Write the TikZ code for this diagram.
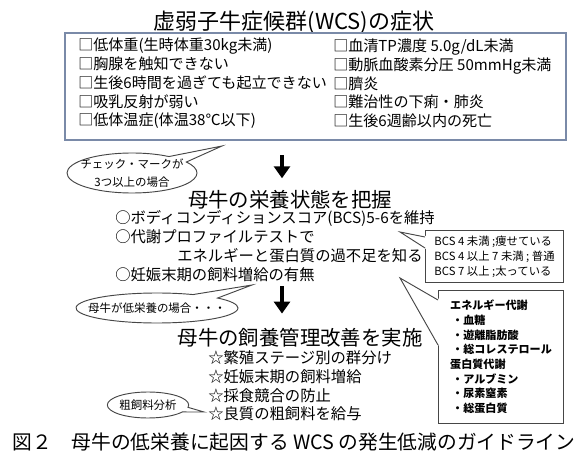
\documentclass[tikz,border=0pt]{standalone}
\usepackage{fontspec}
\setmainfont{Noto Sans CJK JP}
\usetikzlibrary{arrows.meta,positioning,fit,calc,shapes.callouts}
\definecolor{frameblue}{RGB}{122,138,168}
\definecolor{linegray}{RGB}{70,70,70}
\tikzset{
  symframe/.style={draw=frameblue, line width=0.9pt, inner sep=0pt},
  head/.style={font=\fontsize{15.3}{18}\selectfont, inner sep=0pt},
  item/.style={font=\fontsize{11.3}{14.06}\selectfont, align=left, inner sep=0pt, anchor=west},
  bubble/.style={ellipse callout, draw=linegray, line width=0.7pt, fill=white,
                 callout pointer arc=22, inner xsep=-12pt, inner ysep=0pt, align=center,
                 font=\fontsize{8.6}{13}\selectfont},
  notebox/.style={draw=linegray, line width=0.8pt, fill=white, align=left,
                  anchor=north west, inner sep=0pt},
  tail/.style={draw=linegray, line width=0.7pt},
  bigarrow/.style={-{Triangle[width=12pt,length=9pt]}, line width=3pt},
}
\begin{document}
\begin{tikzpicture}[x=0.75pt,y=-0.75pt]
  \useasboundingbox (0,0) rectangle (588,459);

  \node[head, font=\fontsize{16.5}{18}\selectfont] (title) at (294,22) {虚弱子牛症候群(WCS)の症状};
  \node[symframe, fit={(65,33) (566,140)}] (symbox) {};
  \node[item] (symL) at (78,83.5) {□低体重(生時体重30kg未満)\\□胸腺を触知できない\\□生後6時間を過ぎても起立できない\\□吸乳反射が弱い\\□低体温症(体温38℃以下)};
  \node[item] (symR) at (333,83.5) {□血清TP濃度 5.0g/dL未満\\□動脈血酸素分圧 50mmHg未満\\□臍炎\\□難治性の下痢・肺炎\\□生後6週齢以内の死亡};

  \coordinate (checktip) at (222,146);
  \node[bubble, minimum width=97.5pt, minimum height=30pt, callout absolute pointer=(checktip)] (check) at (132,173) {チェック・マークが\\3つ以上の場合};

  \node[head] (grasp) at (290,200) {母牛の栄養状態を把握};
  \node[item, font=\fontsize{11.5}{14.25}\selectfont] (gitems) at (115,246.5) {○ボディコンディションスコア(BCS)5-6を維持\\○代謝プロファイルテストで\\\hspace*{46.5pt}エネルギーと蛋白質の過不足を知る\\○妊娠末期の飼料増給の有無};

  \node[notebox, minimum width=103.5pt, minimum height=39pt, font=\fontsize{8.5}{11.25}\selectfont] (bcs) at (425,230) {BCS 4 未満 ;痩せている\\BCS 4 以上 7 未満 ; 普通\\BCS 7 以上 ;太っている};
  \node[notebox, minimum width=93.75pt, minimum height=99.75pt, font=\bfseries\fontsize{8.3}{11}\selectfont] (meta) at (438,290) {エネルギー代謝\\\hspace*{1.5pt}・血糖\\\hspace*{1.5pt}・遊離脂肪酸\\\hspace*{1.5pt}・総コレステロール\\蛋白質代謝\\\hspace*{1.5pt}・アルブミン\\\hspace*{1.5pt}・尿素窒素\\\hspace*{1.5pt}・総蛋白質};

  \coordinate (bcstip) at (400,232);
  \fill[white] ($(bcs.north west)+(1,6)$) -- (bcstip) -- ($(bcs.north west)+(1,19)$) -- cycle;
  \draw[tail] ($(bcs.north west)+(0,7)$) -- (bcstip) -- ($(bcs.north west)+(0,18)$);
  \coordinate (metatip) at (400,278);
  \fill[white] ($(meta.north west)+(1,9)$) -- (metatip) -- ($(meta.north west)+(1,56)$) -- cycle;
  \draw[tail] ($(meta.north west)+(0,10)$) -- (metatip) -- ($(meta.north west)+(0,55)$);

  \coordinate (lowtip) at (252,285);
  \node[bubble, minimum width=121.5pt, minimum height=22.5pt, callout absolute pointer=(lowtip)] (lowfed) at (157,308) {母牛が低栄養の場合・・・};

  \node[head] (improve) at (300,338) {母牛の飼養管理改善を実施};
  \node[item, font=\fontsize{11.5}{14}\selectfont] (iitems) at (208,386) {☆繁殖ステージ別の群分け\\☆妊娠末期の飼料増給\\☆採食競合の防止\\☆良質の粗飼料を給与};

  \coordinate (foragetip) at (204,412);
  \node[bubble, minimum width=61pt, minimum height=19.5pt, callout absolute pointer=(foragetip)] (forage) at (148,405) {粗飼料分析};

  \coordinate (arrx) at (282,0);
  \draw[bigarrow, shorten <=11pt, shorten >=9pt] (symbox.south -| arrx) -- (grasp.north -| arrx);
  \draw[bigarrow, shorten <=3pt, shorten >=11pt] (gitems.south -| arrx) -- (improve.north -| arrx);

  \node[font=\fontsize{14.8}{16}\selectfont, inner sep=0pt] (caption) at (294,442) {図２　母牛の低栄養に起因する WCS の発生低減のガイドライン};
\end{tikzpicture}
\end{document}
